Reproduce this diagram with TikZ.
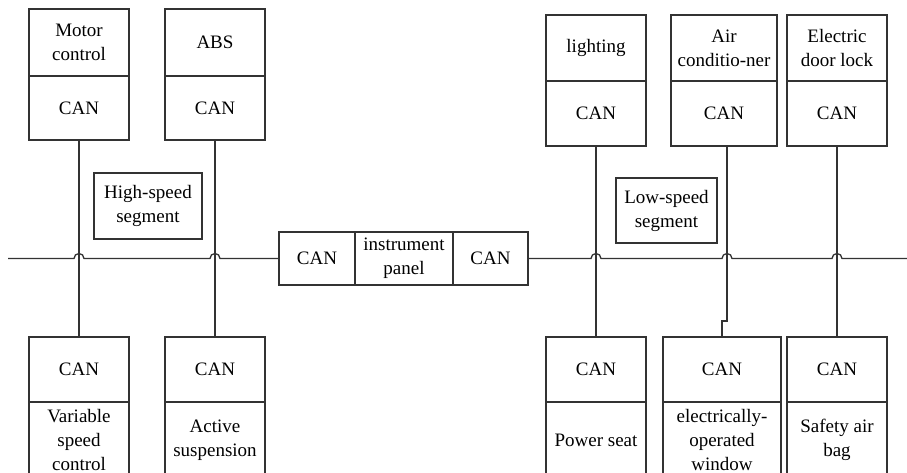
\documentclass[tikz,border=0pt]{standalone}
\usepackage{fontspec}
\setmainfont{Liberation Serif}
\usetikzlibrary{calc,positioning}

\tikzset{
	unit/.style={draw=black!80, line width=1.3pt, minimum width=100pt, inner sep=0pt, outer sep=0pt, align=center, font=\fontsize{19}{24}\selectfont},
	wire/.style={draw=black!80, line width=1.3pt},
	hop over/.style={insert path={-- ($(#1 |- busw)+(-5,0)$) arc[start angle=180, end angle=360, radius=5]}}
}

\begin{document}
\begin{tikzpicture}[x=1pt, y=-1pt]
			%%%%% START %%%%%
			
			\useasboundingbox (0, 0) rectangle (907, 473);
			\clip (0, 0) rectangle (907, 473);
			
			% high-speed side, top
			\node[unit, minimum height=67pt] (motor) at (79, 42.5) {Motor\\control};
			\node[unit, minimum height=64pt, below=0pt of motor] (motorcan) {CAN};
			\node[unit, minimum height=67pt] (abs) at (215, 42.5) {ABS};
			\node[unit, minimum height=64pt, below=0pt of abs] (abscan) {CAN};
			
			% high-speed side, bottom
			\node[unit, minimum height=65pt] (gearcan) at (79, 369.5) {CAN};
			\node[unit, minimum height=76pt, below=0pt of gearcan] (gear) {Variable\\speed\\control};
			\node[unit, minimum height=65pt] (suspcan) at (215, 369.5) {CAN};
			\node[unit, minimum height=76pt, below=0pt of suspcan] (susp) {Active\\suspension};
			
			% low-speed side, top
			\node[unit, minimum height=66pt] (light) at (596, 48) {lighting};
			\node[unit, minimum height=65pt, below=0pt of light] (lightcan) {CAN};
			\node[unit, minimum height=66pt, minimum width=106pt] (air) at (724, 48) {Air\\conditio-ner};
			\node[unit, minimum height=65pt, minimum width=106pt, below=0pt of air] (aircan) {CAN};
			\node[unit, minimum height=66pt] (door) at (837, 48) {Electric\\door lock};
			\node[unit, minimum height=65pt, below=0pt of door] (doorcan) {CAN};
			
			% low-speed side, bottom
			\node[unit, minimum height=65pt] (seatcan) at (596, 369.5) {CAN};
			\node[unit, minimum height=76pt, below=0pt of seatcan] (seat) {Power seat};
			\node[unit, minimum height=65pt, minimum width=118pt] (wincan) at (722, 369.5) {CAN};
			\node[unit, minimum height=76pt, minimum width=118pt, below=0pt of wincan] (win) {electrically-\\operated\\window};
			\node[unit, minimum height=65pt] (bagcan) at (837, 369.5) {CAN};
			\node[unit, minimum height=76pt, below=0pt of bagcan] (bag) {Safety air\\bag};
			
			% gateway
			\node[unit, minimum height=53pt, minimum width=76pt] (ipcanl) at (317, 258.5) {CAN};
			\node[unit, minimum height=53pt, minimum width=98pt, right=0pt of ipcanl] (ip) {instrument\\panel};
			\node[unit, minimum height=53pt, minimum width=75pt, right=0pt of ip] (ipcanr) {CAN};
			
			% segment labels
			\node[unit, minimum height=66pt, minimum width=108pt] (high) at (148, 206) {High-speed\\segment};
			\node[unit, minimum height=65pt, minimum width=101pt] (low) at (666.5, 210.5) {Low-speed\\segment};
			
			% drops
			\draw[wire] (motorcan.south) -- (gearcan.north);
			\draw[wire] (abscan.south) -- (suspcan.north);
			\draw[wire] (lightcan.south) -- (seatcan.north);
			\coordinate (jog) at (727, 321);
			\draw[wire] ([xshift=3pt]aircan.south) -- (jog) -| (wincan.north);
			\draw[wire] (doorcan.south) -- (bagcan.north);
			
			% bus
			\coordinate (busw) at (8, 258.5);
			\coordinate (buse) at (907, 258.5);
			\draw[wire] (busw) [hop over=motorcan.south] [hop over=abscan.south] -- (ipcanl.west);
			\draw[wire] (ipcanr.east) [hop over=lightcan.south] [hop over=jog] [hop over=doorcan.south] -- (buse);
			
			%%%%% END %%%%%
\end{tikzpicture}
\end{document}
